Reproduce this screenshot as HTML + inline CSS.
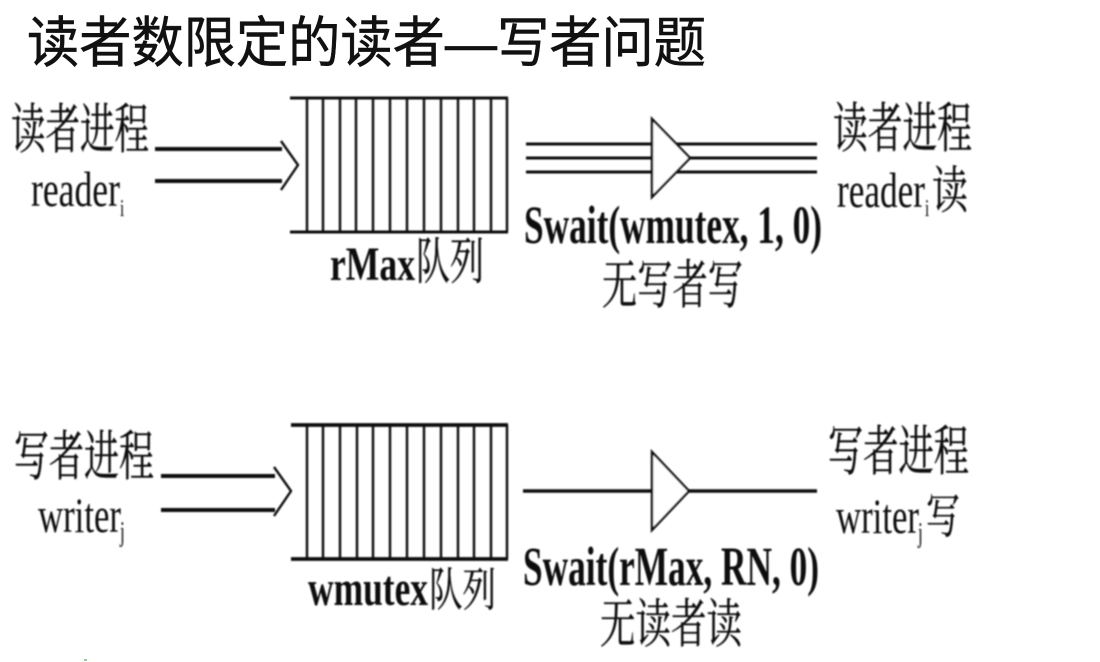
<!DOCTYPE html>
<html lang="zh"><head><meta charset="utf-8"><style>
html,body{margin:0;padding:0;background:#fff;width:1100px;height:662px;overflow:hidden}
svg{display:block}
.c{font-family:"Liberation Serif","Noto Serif CJK SC",serif;fill:#111;stroke:#111;stroke-width:.25}
.b{font-family:"Liberation Serif",serif;font-weight:bold;fill:#111}
.r{font-family:"Liberation Serif",serif;fill:#111}
.l{stroke:#111;fill:none}
</style></head><body>
<svg width="1100" height="662" viewBox="0 0 1100 662" xmlns="http://www.w3.org/2000/svg">
<defs><filter id="s" x="-2%" y="-2%" width="104%" height="104%"><feGaussianBlur stdDeviation="0.75"/></filter></defs>
<text transform="translate(27,62) scale(1,1.06)" font-size="52" textLength="679" lengthAdjust="spacingAndGlyphs" fill="#111" stroke="#111" stroke-width=".5" style='font-family:"Liberation Sans","Noto Sans CJK SC",sans-serif'>读者数限定的读者—写者问题</text>
<rect x="84" y="659" width="3" height="2" fill="#9c9"/>
<g filter="url(#s)">
<!-- Top queue -->
<path class="l" stroke-width="3" d="M290 98H508M290 232H508"/>
<path class="l" stroke-width="2.4" d="M307 98V232M323 98V232M340 98V232M356 98V232M373 98V232M390 98V232M407 98V232M424 98V232M441 98V232M458 98V232M474 98V232M491 98V232M507 98V232"/>
<path class="l" stroke-width="4" d="M155 149H282M155 181H282"/>
<path class="l" stroke-width="2.4" d="M281 141L298 165L281 190"/>
<!-- Top triple line -->
<path class="l" stroke-width="3" d="M526 144H817M526 158H817M526 172H817"/>
<path d="M652 119L690 158L652 197Z" fill="#fff" stroke="#111" stroke-width="2.4"/>
<!-- Bottom queue -->
<path class="l" stroke-width="3.8" d="M291 425H508M291 559H508"/>
<path class="l" stroke-width="2.4" d="M307 425V559M323 425V559M340 425V559M357 425V559M373 425V559M390 425V559M407 425V559M424 425V559M441 425V559M458 425V559M474 425V559M491 425V559M507 425V559"/>
<path class="l" stroke-width="4" d="M161 476H275M161 510H275"/>
<path class="l" stroke-width="2.4" d="M274 467L291 491L274 516"/>
<path class="l" stroke-width="3.5" d="M523 491H817"/>
<path d="M652 452L689 491L652 530Z" fill="#fff" stroke="#111" stroke-width="2.4"/>
<!-- Labels -->
<text class="c" transform="translate(11,148) scale(1,1.5)" font-size="36" textLength="138" lengthAdjust="spacingAndGlyphs">读者进程</text>
<text class="r" transform="translate(31,206) scale(1,1.3)" font-size="38" textLength="89" lengthAdjust="spacingAndGlyphs">reader</text>
<text class="r" transform="translate(120,216) scale(1,1.6)" font-size="15">i</text>
<text class="b" transform="translate(330,280) scale(1,1.25)" font-size="38" textLength="85" lengthAdjust="spacingAndGlyphs">rMax</text>
<text class="c" transform="translate(416,279) scale(1,1.4)" font-size="36" textLength="68" lengthAdjust="spacingAndGlyphs">队列</text>
<text class="b" transform="translate(524,243) scale(1,1.38)" font-size="39" textLength="298" lengthAdjust="spacingAndGlyphs">Swait(wmutex, 1, 0)</text>
<text class="c" transform="translate(602,303) scale(1,1.45)" font-size="36" textLength="141" lengthAdjust="spacingAndGlyphs">无写者写</text>
<text class="c" transform="translate(833,147) scale(1,1.5)" font-size="36" textLength="139" lengthAdjust="spacingAndGlyphs">读者进程</text>
<text class="r" transform="translate(837,207) scale(1,1.3)" font-size="38" textLength="88" lengthAdjust="spacingAndGlyphs">reader</text>
<text class="r" transform="translate(925,216) scale(1,1.6)" font-size="15">i</text>
<text class="c" transform="translate(932,208) scale(1,1.4)" font-size="36">读</text>
<text class="c" transform="translate(14,475) scale(1,1.5)" font-size="36" textLength="140" lengthAdjust="spacingAndGlyphs">写者进程</text>
<text class="r" transform="translate(38,532) scale(1,1.3)" font-size="38" textLength="83" lengthAdjust="spacingAndGlyphs">writer</text>
<text class="r" transform="translate(120,541) scale(1,1.7)" font-size="17">j</text>
<text class="b" transform="translate(308,605) scale(1,1.3)" font-size="38" textLength="120" lengthAdjust="spacingAndGlyphs">wmutex</text>
<text class="c" transform="translate(429,606) scale(1,1.3)" font-size="36" textLength="67" lengthAdjust="spacingAndGlyphs">队列</text>
<text class="b" transform="translate(523,585) scale(1,1.4)" font-size="39" textLength="296" lengthAdjust="spacingAndGlyphs">Swait(rMax, RN, 0)</text>
<text class="c" transform="translate(600,642) scale(1,1.45)" font-size="36" textLength="142" lengthAdjust="spacingAndGlyphs">无读者读</text>
<text class="c" transform="translate(828,470) scale(1,1.5)" font-size="36" textLength="141" lengthAdjust="spacingAndGlyphs">写者进程</text>
<text class="r" transform="translate(836,533) scale(1,1.3)" font-size="38" textLength="83" lengthAdjust="spacingAndGlyphs">writer</text>
<text class="r" transform="translate(918,542) scale(1,1.7)" font-size="17">j</text>
<text class="c" transform="translate(926,533) scale(1,1.4)" font-size="34">写</text>
</g>
</svg>
</body></html>
